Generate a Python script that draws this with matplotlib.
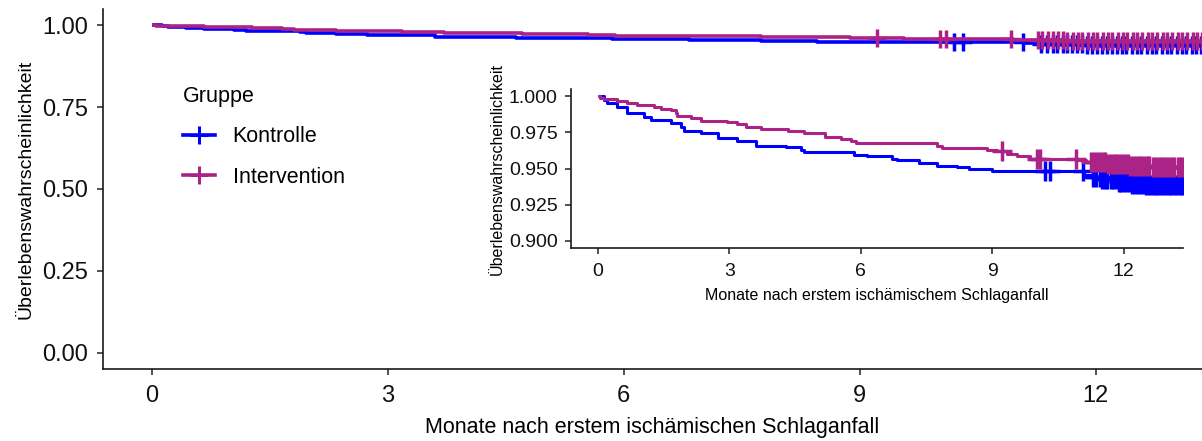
import matplotlib
matplotlib.use('Agg')
import matplotlib.pyplot as plt
from matplotlib.lines import Line2D
import numpy as np

plt.rcParams['font.family'] = ['Liberation Sans', 'DejaVu Sans']

# Kaplan-Meier steps (months, survival after the step)
kontrolle_t = [0, 0.13, 0.21, 0.44, 0.66, 1.05, 1.20, 1.66, 1.89, 1.96, 2.34, 2.73,
               3.18, 3.60, 4.29, 4.63, 4.71, 5.85, 6.15, 6.72, 6.83, 7.33, 7.74,
               8.20, 8.46, 8.99, 11.10, 11.30, 11.50, 11.85, 12.20, 12.50]
kontrolle_s = [1.000, 0.9977, 0.9954, 0.9927, 0.9886, 0.9858, 0.9835, 0.9817,
               0.9789, 0.9762, 0.9744, 0.9714, 0.9691, 0.9659, 0.9648, 0.9625,
               0.9611, 0.9595, 0.9584, 0.9568, 0.9556, 0.9538, 0.9520, 0.9510,
               0.9497, 0.9480, 0.9455, 0.9440, 0.9425, 0.9410, 0.9395, 0.9385]
kontrolle_censor = [10.20, 10.31, 11.07, 11.30, 11.38, 11.45, 11.51, 11.58, 11.63,
                    11.70, 11.76, 11.82, 11.89, 11.95, 12.01, 12.08, 12.14, 12.20,
                    12.27, 12.33, 12.39, 12.46, 12.52, 12.58, 12.65, 12.71, 12.77,
                    12.84, 12.90, 12.96, 13.03, 13.09, 13.15, 13.22, 13.28, 13.34, 13.40]

interv_t = [0, 0.05, 0.13, 0.44, 0.66, 0.89, 1.27, 1.43, 1.66, 1.77, 1.81, 2.11,
            2.34, 2.95, 3.18, 3.37, 3.72, 4.33, 4.71, 5.17, 5.55, 5.77, 5.89,
            7.74, 7.86, 8.88, 9.11, 9.33, 9.56, 9.86, 10.95, 11.15, 11.60, 12.10, 12.60]
interv_s = [1.000, 0.9989, 0.9980, 0.9968, 0.9954, 0.9943, 0.9927, 0.9913, 0.9904,
            0.9881, 0.9863, 0.9847, 0.9831, 0.9822, 0.9805, 0.9785, 0.9773, 0.9759,
            0.9748, 0.9721, 0.9705, 0.9691, 0.9675, 0.9657, 0.9645, 0.9629, 0.9618,
            0.9600, 0.9584, 0.9568, 0.9556, 0.9542, 0.9530, 0.9520, 0.9510]
interv_censor = [9.22, 10.02, 10.10, 10.92, 11.26, 11.32, 11.39, 11.45, 11.52,
                 11.58, 11.64, 11.71, 11.77, 11.83, 11.90, 11.96, 12.02, 12.09,
                 12.15, 12.21, 12.28, 12.34, 12.40, 12.47, 12.53, 12.59, 12.66,
                 12.72, 12.78, 12.85, 12.91, 12.97, 13.04, 13.10, 13.16, 13.23,
                 13.29, 13.35, 13.40]

groups = ['Kontrolle', 'Intervention']
colors = ['#0000FF', '#AB2386']

x_ticks = [0, 3, 6, 9, 12]
main_yticks = [0, 0.25, 0.5, 0.75, 1.0]
inset_yticks = [0.900, 0.925, 0.950, 0.975, 1.000]
x_label_main = 'Monate nach erstem ischämischen Schlaganfall'
x_label_inset = 'Monate nach erstem ischämischem Schlaganfall'
y_label = 'Überlebenswahrscheinlichkeit'

series = [(kontrolle_t, kontrolle_s, kontrolle_censor),
          (interv_t, interv_s, interv_censor)]


def km_at(times, surv, t):
    idx = np.searchsorted(times, t, side='right') - 1
    return np.asarray(surv)[idx]


def draw_curves(ax, lw, ms, mew):
    for (t, s, c), col in zip(series, colors):
        t_end = max(c)
        ax.step(list(t) + [t_end], list(s) + [s[-1]], where='post',
                color=col, lw=lw, solid_capstyle='butt', clip_on=True)
        ax.plot(c, km_at(t, s, c), ls='none', marker='+', ms=ms, mew=mew,
                color=col, clip_on=True)


def style_axes(ax, tick_size, tick_len):
    for side in ['top', 'right']:
        ax.spines[side].set_visible(False)
    for side in ['left', 'bottom']:
        ax.spines[side].set_linewidth(1.2)
        ax.spines[side].set_color('#1a1a1a')
    ax.tick_params(axis='both', length=tick_len, width=1.2, color='#333333',
                   labelsize=tick_size, labelcolor='#111111')


fig = plt.figure(figsize=(12.02, 4.41), dpi=100)

# main panel
ax = fig.add_axes([0.0857, 0.1633, 0.9143, 0.8163])
draw_curves(ax, lw=2.6, ms=13, mew=2.5)
ax.set_xlim(-0.62, 13.35)
ax.set_ylim(-0.05, 1.05)
ax.set_xticks(x_ticks)
ax.set_yticks(main_yticks)
ax.set_yticklabels([f'{v:.2f}' for v in main_yticks])
style_axes(ax, 17, 4.5)
ax.tick_params(axis='x', pad=7)
ax.tick_params(axis='y', pad=6)
ax.set_xlabel(x_label_main, fontsize=15.5, labelpad=7)
ax.set_ylabel(y_label, fontsize=14, labelpad=6)

handles = [Line2D([], [], color=col, lw=2.6, marker='+', ms=13, mew=2.2)
           for col in colors]
leg = ax.legend(handles, groups, title='Gruppe', loc='upper left',
                frameon=False, fontsize=15.5, title_fontsize=15.5,
                handlelength=1.5, handletextpad=0.8, labelspacing=0.9,
                borderpad=0, borderaxespad=0, alignment='left')
leg.set_bbox_to_anchor((183 / 1202, 1 - 86 / 441), transform=fig.transFigure)

# zoomed inset
axi = fig.add_axes([0.475, 0.4376, 0.509, 0.3605])
draw_curves(axi, lw=2.2, ms=14, mew=2.5)
axi.set_xlim(-0.62, 13.35)
axi.set_ylim(0.895, 1.005)
axi.set_xticks(x_ticks)
axi.set_yticks(inset_yticks)
axi.set_yticklabels([f'{v:.3f}' for v in inset_yticks])
style_axes(axi, 14, 4.5)
axi.tick_params(axis='x', pad=6)
axi.tick_params(axis='y', pad=5)
axi.set_xlabel(x_label_inset, fontsize=11.5, labelpad=6)
axi.set_ylabel(y_label, fontsize=11.5, labelpad=3)

fig.savefig('out.png', dpi=100)
